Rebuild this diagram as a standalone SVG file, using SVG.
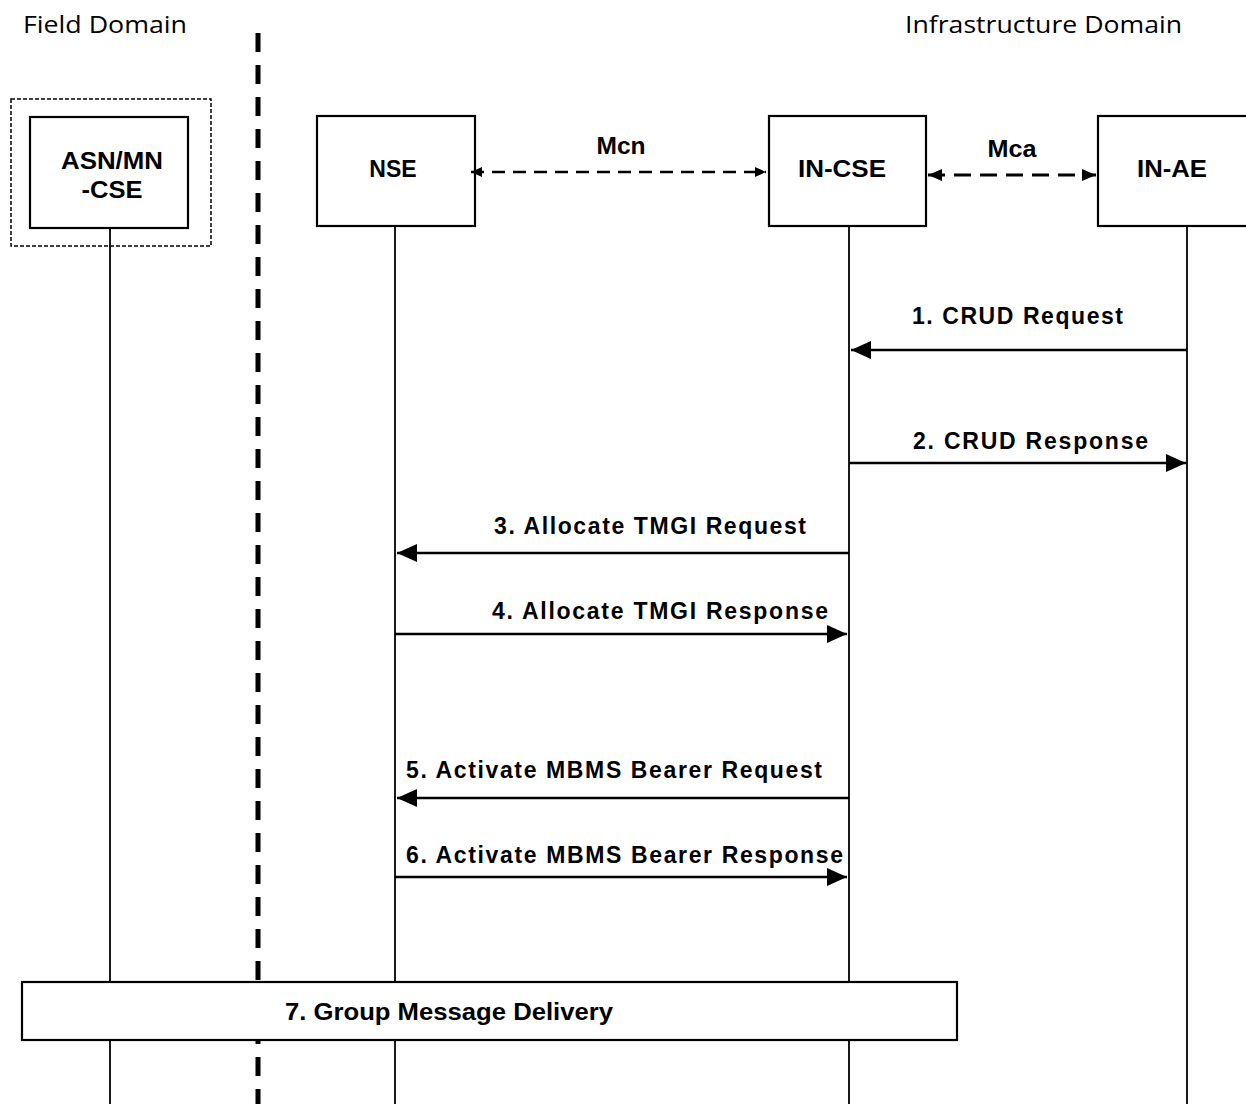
<svg xmlns="http://www.w3.org/2000/svg" width="1246" height="1104" viewBox="0 0 1246 1104">
<defs>
<style>
.box{fill:#fff;stroke:#000;stroke-width:2.2}
.life{stroke:#000;stroke-width:1.8;fill:none}
.msg{stroke:#000;stroke-width:2.6;fill:none}
.iface{stroke:#000;stroke-width:2.6;fill:none;stroke-dasharray:13 8}
.lbl{font-family:"Liberation Sans",Arial,sans-serif;font-weight:bold;font-size:23px;fill:#000}
.dom{font-family:"Open Sans","Noto Sans",sans-serif;font-size:24px;fill:#000}
</style>
<marker id="ah" viewBox="0 0 20 18" refX="20" refY="9" markerWidth="20" markerHeight="18" markerUnits="userSpaceOnUse" orient="auto-start-reverse">
<path d="M0,0 L20,9 L0,18 Z" fill="#000"/>
</marker>
<marker id="sh" viewBox="0 0 11 10" refX="11" refY="5" markerWidth="11" markerHeight="10" markerUnits="userSpaceOnUse" orient="auto-start-reverse">
<path d="M0,0 L11,5 L0,10 Z" fill="#000"/>
</marker>
<marker id="mh" viewBox="0 0 14 12" refX="14" refY="6" markerWidth="14" markerHeight="12" markerUnits="userSpaceOnUse" orient="auto-start-reverse">
<path d="M0,0 L14,6 L0,12 Z" fill="#000"/>
</marker>
</defs>
<rect width="1246" height="1104" fill="#fff"/>

<g id="domains">
<text class="dom" x="23" y="33" textLength="164" lengthAdjust="spacingAndGlyphs">Field Domain</text>
<text class="dom" x="905" y="33" textLength="277" lengthAdjust="spacingAndGlyphs">Infrastructure Domain</text>
<line x1="258" y1="33" x2="258" y2="1104" stroke="#000" stroke-width="5" stroke-dasharray="19 13"/>
</g>

<g id="lifelines">
<line class="life" x1="110" y1="228" x2="110" y2="1104"/>
<line class="life" x1="395" y1="226" x2="395" y2="1104"/>
<line class="life" x1="849" y1="226" x2="849" y2="1104"/>
<line class="life" x1="1187" y1="226" x2="1187" y2="1104"/>
</g>

<g id="node-asn">
<rect x="11" y="99" width="200" height="147" fill="none" stroke="#000" stroke-width="1.5" stroke-dasharray="4 2"/>
<rect class="box" x="30" y="117" width="158" height="111"/>
<text class="lbl" x="112" y="169" text-anchor="middle" textLength="102" lengthAdjust="spacingAndGlyphs">ASN/MN</text>
<text class="lbl" x="112" y="198" text-anchor="middle" textLength="61" lengthAdjust="spacingAndGlyphs">-CSE</text>
</g>

<g id="node-nse">
<rect class="box" x="317" y="116" width="158" height="110"/>
<text class="lbl" x="393" y="177" text-anchor="middle">NSE</text>
</g>

<g id="node-incse">
<rect class="box" x="769" y="116" width="157" height="110"/>
<text class="lbl" x="842" y="177" text-anchor="middle" textLength="88" lengthAdjust="spacingAndGlyphs">IN-CSE</text>
</g>

<g id="node-inae">
<rect class="box" x="1098" y="116" width="160" height="110"/>
<text class="lbl" x="1172" y="177" text-anchor="middle" textLength="70" lengthAdjust="spacingAndGlyphs">IN-AE</text>
</g>

<g id="connectors">
<line class="iface" x1="471" y1="172" x2="766" y2="172" marker-start="url(#sh)" marker-end="url(#sh)"/>
<text class="lbl" x="621" y="154" text-anchor="middle" textLength="49" lengthAdjust="spacingAndGlyphs">Mcn</text>
<line x1="928" y1="175" x2="1096" y2="175" stroke="#000" stroke-width="3" stroke-dasharray="17 9" marker-start="url(#mh)" marker-end="url(#mh)"/>
<text class="lbl" x="1012" y="157" text-anchor="middle" textLength="49" lengthAdjust="spacingAndGlyphs">Mca</text>

<line class="msg" x1="1187" y1="350" x2="851" y2="350" marker-end="url(#ah)"/>
<text class="lbl" x="912" y="324" textLength="211" lengthAdjust="spacing">1. CRUD Request</text>

<line class="msg" x1="849" y1="463" x2="1186" y2="463" marker-end="url(#ah)"/>
<text class="lbl" x="913" y="449" textLength="235" lengthAdjust="spacing">2. CRUD Response</text>

<line class="msg" x1="849" y1="553" x2="397" y2="553" marker-end="url(#ah)"/>
<text class="lbl" x="494" y="534" textLength="312" lengthAdjust="spacing">3. Allocate TMGI Request</text>

<line class="msg" x1="395" y1="634" x2="847" y2="634" marker-end="url(#ah)"/>
<text class="lbl" x="492" y="619" textLength="336" lengthAdjust="spacing">4. Allocate TMGI Response</text>

<line class="msg" x1="849" y1="798" x2="397" y2="798" marker-end="url(#ah)"/>
<text class="lbl" x="406" y="778" textLength="416" lengthAdjust="spacing">5. Activate MBMS Bearer Request</text>

<line class="msg" x1="395" y1="877" x2="847" y2="877" marker-end="url(#ah)"/>
<text class="lbl" x="406" y="863" textLength="437" lengthAdjust="spacing">6. Activate MBMS Bearer Response</text>
</g>

<g id="node-group-delivery">
<rect class="box" x="22" y="982" width="935" height="58"/>
<text class="lbl" x="285" y="1020" textLength="328" lengthAdjust="spacingAndGlyphs">7. Group Message Delivery</text>
</g>
</svg>
